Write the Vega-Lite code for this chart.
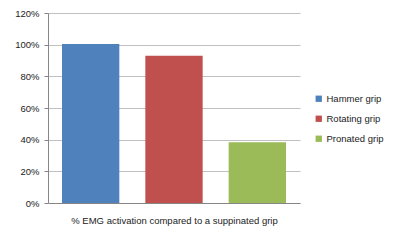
{
  "$schema": "https://vega.github.io/schema/vega-lite/v6.json",
  "width": 252,
  "height": 190,
  "autosize": {"type": "none"},
  "padding": {"left": 48, "top": 13, "right": 100, "bottom": 38},
  "background": "white",
  "data": {"values": [
    {"grip": "Hammer grip", "value": 1.005},
    {"grip": "Rotating grip", "value": 0.93},
    {"grip": "Pronated grip", "value": 0.383}
  ]},
  "mark": {"type": "bar"},
  "encoding": {
    "x": {
      "field": "grip", "type": "nominal",
      "sort": ["Hammer grip", "Rotating grip", "Pronated grip"],
      "scale": {"paddingInner": 0.312, "paddingOuter": 0.168},
      "axis": {
        "title": "% EMG activation compared to a suppinated grip",
        "labels": false, "ticks": false,
        "domainColor": "#868686",
        "titleFont": "Liberation Sans", "titleFontSize": 9.5, "titleFontWeight": "normal",
        "titleColor": "#222222", "titlePadding": 12
      }
    },
    "y": {
      "field": "value", "type": "quantitative",
      "scale": {"domain": [0, 1.2]},
      "axis": {
        "title": null, "format": ".0%", "values": [0, 0.2, 0.4, 0.6, 0.8, 1.0, 1.2],
        "domainColor": "#868686", "tickColor": "#868686", "tickSize": 4,
        "gridColor": "#c0c0c0", "labelFont": "Liberation Sans", "labelFontSize": 9.5,
        "labelColor": "#222222", "labelPadding": 5
      }
    },
    "color": {
      "field": "grip", "type": "nominal",
      "sort": ["Hammer grip", "Rotating grip", "Pronated grip"],
      "scale": {"domain": ["Hammer grip", "Rotating grip", "Pronated grip"], "range": ["#4F81BD", "#C0504D", "#9BBB59"]},
      "legend": {
        "title": null, "orient": "none", "legendX": 266, "legendY": 81,
        "symbolType": "square", "symbolSize": 40, "symbolStrokeWidth": 0,
        "labelFont": "Liberation Sans", "labelFontSize": 9.5, "labelColor": "#222222",
        "rowPadding": 9, "labelOffset": 3
      }
    }
  },
  "config": {"view": {"stroke": null}}
}
